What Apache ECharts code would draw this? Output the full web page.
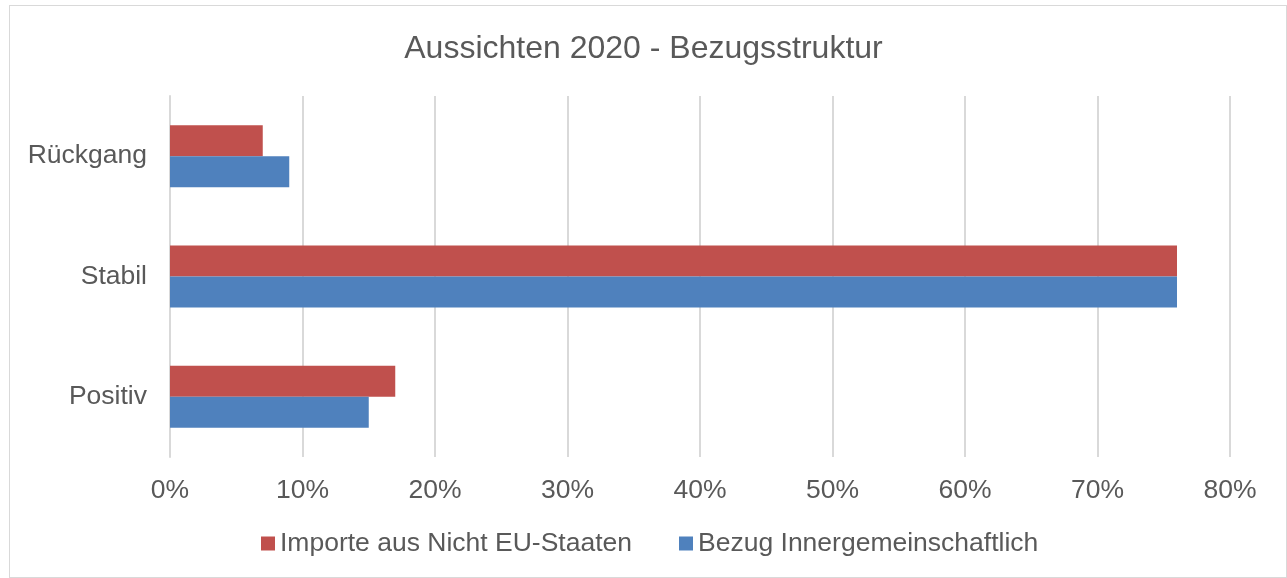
<!DOCTYPE html>
<html>
<head>
<meta charset="utf-8">
<script src="https://cdn.jsdelivr.net/npm/echarts@6/dist/echarts.min.js"></script>
<style>
  html, body { margin: 0; padding: 0; background: #fff; }
  #frame { position: absolute; left: 9px; top: 5px; width: 1278px; height: 573px; border: 1px solid #d9d9d9; box-sizing: border-box; }
  #main { position: absolute; left: 0; top: 0; width: 1287px; height: 578px; }
</style>
</head>
<body>
<div id="frame"></div>
<div id="main"></div>
<script>
const categories = ['Positiv', 'Stabil', 'Rückgang'];
const importeNichtEU = [17, 76, 7];
const bezugInnergem = [15, 76, 9];
const xTicks = [0, 10, 20, 30, 40, 50, 60, 70, 80];

let myChart = echarts.init(document.getElementById('main'));
let font = 'Liberation Sans, Arial, sans-serif';
let option = {
    animation: false,
    title: {
        text: 'Aussichten 2020 - Bezugsstruktur',
        left: 'center',
        top: 28,
        textStyle: { fontFamily: font, fontSize: 32, fontWeight: 'normal', color: '#595959' }
    },
    legend: {
        data: ['Importe aus Nicht EU-Staaten', 'Bezug Innergemeinschaftlich'],
        bottom: 16,
        left: 256,
        itemWidth: 14,
        itemHeight: 14,
        itemGap: 47,
        icon: 'rect',
        textStyle: { fontFamily: font, fontSize: 26.5, color: '#595959' }
    },
    grid: { left: 170, right: 57, top: 96, bottom: 121 },
    xAxis: {
        type: 'value',
        min: xTicks[0],
        max: xTicks[xTicks.length - 1],
        interval: 10,
        axisLine: { show: false },
        axisTick: { show: false },
        splitLine: { lineStyle: { color: '#d9d9d9', width: 2 } },
        axisLabel: { formatter: '{value}%', margin: 20, fontFamily: font, fontSize: 26.5, color: '#595959' }
    },
    yAxis: {
        type: 'category',
        data: categories,
        axisLine: { show: true, lineStyle: { color: '#d9d9d9', width: 2 } },
        axisTick: { show: false },
        axisLabel: { margin: 23, fontFamily: font, fontSize: 26.5, color: '#595959' }
    },
    series: [
        {
            name: 'Importe aus Nicht EU-Staaten',
            type: 'bar',
            data: importeNichtEU,
            barWidth: 31,
            barGap: 0,
            itemStyle: { color: '#c0504d' }
        },
        {
            name: 'Bezug Innergemeinschaftlich',
            type: 'bar',
            data: bezugInnergem,
            barWidth: 31,
            barGap: 0,
            itemStyle: { color: '#4f81bd' }
        }
    ]
};
myChart.setOption(option);
</script>
</body>
</html>
